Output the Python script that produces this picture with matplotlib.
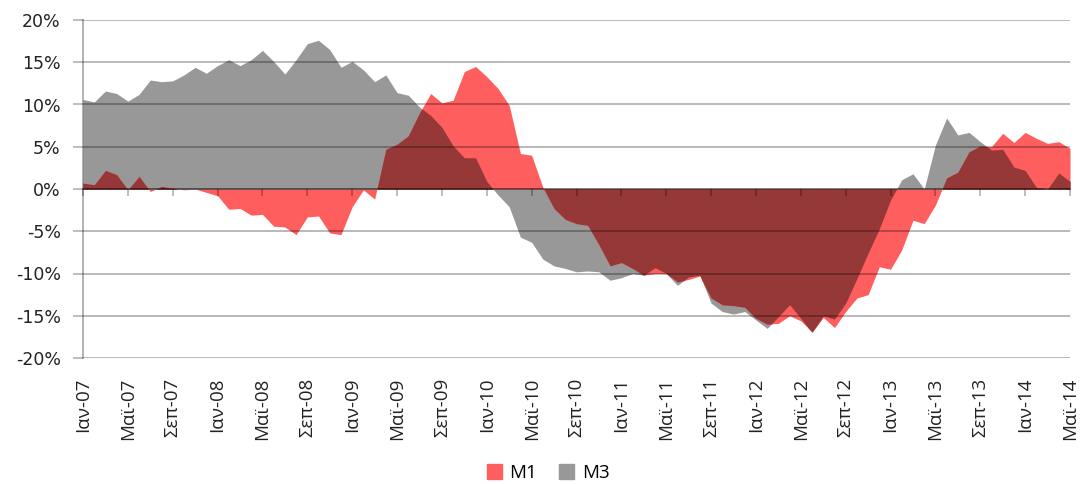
import numpy as np
import matplotlib.pyplot as plt
from matplotlib.patches import Patch

# Monthly annual growth rates (%), Jan-07 .. May-14
m1 = [0.7, 0.5, 2.2, 1.7, -0.1, 1.5, -0.3, 0.3, 0.1, -0.1,
      0.0, -0.4, -0.8, -2.4, -2.3, -3.1, -3.0, -4.4, -4.5, -5.4,
      -3.3, -3.2, -5.2, -5.4, -2.1, -0.1, -1.2, 4.7, 5.3, 6.3,
      9.0, 11.3, 10.2, 10.5, 13.9, 14.5, 13.3, 11.9, 9.9, 4.2,
      4.0, 0.2, -2.3, -3.6, -4.1, -4.3, -6.6, -9.1, -8.7, -9.4,
      -10.2, -10.0, -10.0, -11.0, -10.7, -10.3, -12.9, -13.7, -13.8, -14.0,
      -15.3, -16.0, -15.9, -15.0, -15.6, -16.9, -15.2, -16.4, -14.5, -12.9,
      -12.5, -9.2, -9.5, -7.2, -3.7, -4.1, -1.9, 1.3, 2.0, 4.4,
      5.1, 5.0, 6.6, 5.5, 6.7, 6.0, 5.4, 5.6, 4.8]

m3 = [10.6, 10.3, 11.6, 11.3, 10.4, 11.2, 12.9, 12.7, 12.8, 13.5,
      14.4, 13.7, 14.6, 15.3, 14.6, 15.3, 16.4, 15.1, 13.6, 15.3,
      17.2, 17.6, 16.5, 14.4, 15.1, 14.1, 12.7, 13.5, 11.4, 11.1,
      9.7, 8.7, 7.3, 5.1, 3.7, 3.7, 0.9, -0.7, -2.1, -5.7,
      -6.3, -8.3, -9.1, -9.4, -9.8, -9.7, -9.8, -10.8, -10.5, -10.0,
      -10.2, -9.3, -10.0, -11.4, -10.4, -10.2, -13.5, -14.5, -14.8, -14.5,
      -15.5, -16.5, -15.1, -13.7, -15.3, -17.0, -15.0, -15.4, -13.5, -10.6,
      -7.6, -4.7, -1.3, 1.1, 1.8, 0.0, 5.2, 8.4, 6.4, 6.7,
      5.6, 4.6, 4.7, 2.6, 2.2, 0.2, 0.0, 1.9, 0.9]

tick_labels = ['Ιαν-07', 'Μαϊ-07', 'Σεπ-07', 'Ιαν-08', 'Μαϊ-08', 'Σεπ-08',
               'Ιαν-09', 'Μαϊ-09', 'Σεπ-09', 'Ιαν-10', 'Μαϊ-10', 'Σεπ-10',
               'Ιαν-11', 'Μαϊ-11', 'Σεπ-11', 'Ιαν-12', 'Μαϊ-12', 'Σεπ-12',
               'Ιαν-13', 'Μαϊ-13', 'Σεπ-13', 'Ιαν-14', 'Μαϊ-14']

red = '#ff5e5e'
grey = '#989898'
dark = '#963838'   # where the two areas overlap

x = np.arange(len(m1))
a = np.array(m1)
b = np.array(m3)

fig = plt.figure(figsize=(10.82, 4.84), dpi=100)
ax = fig.add_axes([83 / 1082, 126 / 484, 987 / 1082, 338 / 484])

ax.fill_between(x, 0, b, color=grey, linewidth=0)
ax.fill_between(x, 0, a, color=red, linewidth=0)

# overlap region drawn darker, on a fine grid so crossings look right
xs = np.linspace(0, len(m1) - 1, (len(m1) - 1) * 20 + 1)
ai = np.interp(xs, x, a)
bi = np.interp(xs, x, b)
ov = np.where(ai * bi > 0, np.sign(ai) * np.minimum(np.abs(ai), np.abs(bi)), 0)
ax.fill_between(xs, 0, ov, color=dark, linewidth=0)

ax.set_xlim(0, len(m1) - 1)
ax.set_ylim(-20, 20)

line_col = (0, 0, 0, 0.3)
ax.set_axisbelow(False)
ax.yaxis.grid(True, color='black', alpha=0.28, linewidth=1.4)
ax.set_yticks(np.arange(-20, 21, 5))
ax.set_yticklabels([f'{v}%' for v in range(-20, 21, 5)], fontsize=12.5, color='#222222')
ax.tick_params(axis='y', direction='out', length=7, width=1.2, color=line_col, pad=9)

# x axis line sits on 0, labels at the bottom
for s in ['top', 'right']:
    ax.spines[s].set_visible(False)
ax.spines['left'].set_color(line_col)
ax.spines['left'].set_linewidth(1.4)
ax.spines['bottom'].set_position(('data', 0))
ax.spines['bottom'].set_color(line_col)
ax.spines['bottom'].set_linewidth(1.4)

ticks = np.arange(0, len(m1), 4)
ax.set_xticks(ticks)
ax.tick_params(axis='x', direction='out', length=5, width=1.2, color=line_col, labelbottom=False)

sec = ax.secondary_xaxis(0.0)
sec.set_xticks(ticks)
sec.set_xticklabels(tick_labels, rotation=90, fontsize=13.5, color='#222222',
                    family=['Open Sans', 'DejaVu Sans'])
sec.tick_params(axis='x', length=0, pad=14)
sec.spines['bottom'].set_visible(False)

handles = [Patch(color=red, label='M1'), Patch(color=grey, label='M3')]
fig.legend(handles=handles, loc='center', bbox_to_anchor=(548 / 1082, 11 / 484),
           ncol=2, frameon=False, handlelength=0.8, handleheight=0.8,
           handletextpad=0.4, columnspacing=1.2,
           prop={'family': ['Open Sans', 'DejaVu Sans'], 'size': 13.5})

plt.savefig('out.png', dpi=100)
